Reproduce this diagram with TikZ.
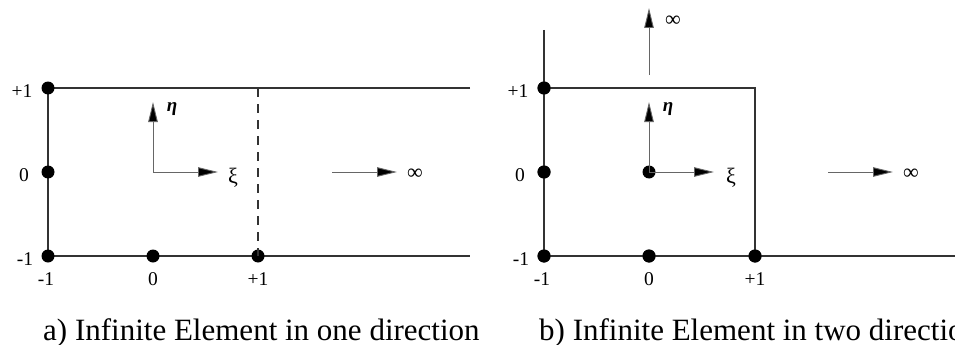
\documentclass[tikz,border=0pt]{standalone}
\usepackage{fontspec}
\setmainfont{Liberation Serif}
\usetikzlibrary{arrows.meta}
\begin{document}
\begin{tikzpicture}[x=1pt,y=-1pt,
  dot/.style={circle,fill=black,inner sep=0pt,minimum size=13pt},
  edge/.style={line width=2pt,draw=black!80},
  axis/.style={line width=0.9pt,draw=black!60,-{Triangle[length=20pt 0,width=9.5pt 0,fill=black]}},
  lbl/.style={font=\fontsize{19.5}{19.5}\selectfont,inner sep=0pt},
  sym/.style={font=\fontsize{22}{22}\selectfont,inner sep=0pt},
  glab/.style={font=\fontsize{19}{19}\selectfont\bfseries\itshape,inner sep=0pt},
  captext/.style={font=\fontsize{31}{31}\selectfont,inner sep=0pt,anchor=base west}]
\useasboundingbox (0,0) rectangle (955,345);
\clip (0,0) rectangle (955,345);
% ---------- panel a ----------
\coordinate (aTL) at (48,88);
\coordinate (aTR) at (470,88);
\coordinate (aBR) at (470,256);
\coordinate (aDT) at (258,88);
\draw[edge] (aTR) -- (aTL) -- (48,256) -- (aBR);
\node[dot] (a1) at (48,88) {};
\node[dot] (a2) at (48,172) {};
\node[dot] (a3) at (48,256) {};
\node[dot] (a4) at (153,256) {};
\node[dot] (a5) at (258,256) {};
\draw[line width=1.6pt,draw=black!80,dash pattern=on 9pt off 7pt] (aDT) -- (a5.center);
\coordinate (aO) at (153,172);
\coordinate (aEta) at (153,102);
\coordinate (aXi) at (218,172);
\draw[axis] (aO) -- (aEta);
\draw[axis] (aO) -- (aXi);
\node[glab] (aEtaL) at (172,109) {η};
\node[sym] (aXiL) at (233,178) {ξ};
\coordinate (aInfS) at (332,172);
\coordinate (aInfE) at (397,172);
\draw[axis] (aInfS) -- (aInfE);
\node[sym] (aInfL) at (415,174) {∞};
\node[lbl] at (22,91) {+1};
\node[lbl] at (24,175) {0};
\node[lbl] at (25,259) {-1};
\node[lbl] at (46,279) {-1};
\node[lbl] at (153,279) {0};
\node[lbl] at (258,279) {+1};
\node[captext] (capA) at (43,340) {a) Infinite Element in one direction};
% ---------- panel b ----------
\coordinate (bTop) at (544,30);
\coordinate (bTR) at (755,88);
\coordinate (bBE) at (955,256);
\node[dot] (b1) at (544,88) {};
\node[dot] (b2) at (544,172) {};
\node[dot] (b3) at (544,256) {};
\node[dot] (b4) at (649,256) {};
\node[dot] (b5) at (755,256) {};
\node[dot] (bO) at (649,172) {};
\draw[edge] (bTop) -- (b3.center) -- (bBE);
\draw[edge] (b1.center) -- (bTR) -- (b5.center);
\foreach \n in {b1,b2,b3,b4,b5} \node[dot] at (\n) {};
\coordinate (bEta) at (649,102);
\coordinate (bXi) at (714,172);
\draw[axis] (bO.center) -- (bEta);
\draw[axis] (bO.center) -- (bXi);
\node[glab] (bEtaL) at (668,109) {η};
\node[sym] (bXiL) at (731,178) {ξ};
\coordinate (bUpS) at (649,75);
\coordinate (bUpE) at (649,8);
\draw[axis] (bUpS) -- (bUpE);
\node[sym] (bUpL) at (673,21) {∞};
\coordinate (bInfS) at (828,172);
\coordinate (bInfE) at (893,172);
\draw[axis] (bInfS) -- (bInfE);
\node[sym] (bInfL) at (911,174) {∞};
\node[lbl] at (518,91) {+1};
\node[lbl] at (520,175) {0};
\node[lbl] at (521,259) {-1};
\node[lbl] at (542,279) {-1};
\node[lbl] at (649,279) {0};
\node[lbl] at (755,279) {+1};
\node[captext] (capB) at (539,340) {b) Infinite Element in two directions};
\end{tikzpicture}
\end{document}
